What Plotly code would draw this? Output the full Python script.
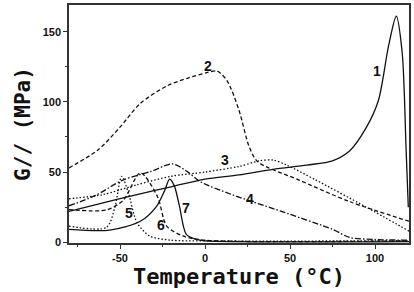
import plotly.graph_objects as go

# Curve data (Temperature in °C, G'' in MPa)
t1 = [-80, -60, -40, -20, 0, 20, 40, 60, 75, 85, 95, 102, 108, 112.5, 116, 118.3, 119.6]
g1 = [22, 28, 34, 39.5, 45, 48, 52, 55, 58, 65, 82, 101, 140, 161, 135, 66, 25]

t2 = [-80, -63, -50, -38, -22, -10, 1, 7, 13, 20, 26, 31, 55, 85, 120]
g2 = [53, 65.7, 82, 99, 111.6, 117, 120.8, 122, 115, 94, 68, 57.4, 44.5, 29, 15]

t3 = [-80, -60, -40, -20, 0, 20, 32, 40, 48, 65, 94, 120]
g3 = [31, 34, 41, 47, 50, 54, 58, 58.6, 55, 44.5, 25.6, 8]

t4 = [-80, -65, -48, -32, -19, -10, -3, 16, 45, 75, 85, 100, 120]
g4 = [26, 33, 44.5, 50.4, 55.8, 50, 43.3, 33.9, 22, 9.2, 3.5, 2, 1.5]

t5 = [-80, -58, -53, -49, -45, -40, -32.5, -20, 0, 120]
g5 = [11.5, 10.6, 25, 47, 35, 14, 4.5, 1.5, 1, 1]

t6 = [-80, -58, -48, -38, -28, -22.5, -13, 0, 120]
g6 = [23.3, 23, 30, 49.4, 32.7, 11.5, 4.5, 1.5, 1]

t7 = [-80, -56, -38, -28.5, -23.7, -20.8, -18, -15, -11, -5, 0, 120]
g7 = [9.2, 8.7, 15, 25.6, 37, 45, 40, 25.6, 5.6, 2, 1, 0.5]

curve_labels = ["1", "2", "3", "4", "5", "6", "7"]
label_t = [101, 1.5, 12, 26.4, -45, -25.6, -11]
label_g = [122, 125.7, 58.6, 30.8, 21, 12, 24.5]

x_ticks = [-50, 0, 50, 100]
y_ticks = [0, 50, 100, 150]

DASH = "4px,2.5px"
DOT = "1.5px,2px"
DASHDOT = "6px,2px,1.5px,2px"

series = [
    (t1, g1, "solid"),
    (t2, g2, DASH),
    (t3, g3, DOT),
    (t4, g4, DASHDOT),
    (t5, g5, DOT),
    (t6, g6, DASH),
    (t7, g7, "solid"),
]

fig = go.Figure()
for t, g, dash in series:
    fig.add_trace(go.Scatter(
        x=t, y=g, mode="lines",
        line=dict(color="#111", width=1.3, dash=dash, shape="spline", smoothing=0.8),
        showlegend=False, hoverinfo="skip"))

for lab, xt, yg in zip(curve_labels, label_t, label_g):
    fig.add_annotation(x=xt, y=yg, text="<b>" + lab + "</b>", showarrow=False,
                       font=dict(family="Liberation Sans", size=14, color="#111"),
                       xanchor="center", yanchor="middle")

axis_common = dict(
    showline=True, linecolor="#333", linewidth=1.5, mirror=True,
    ticks="outside", ticklen=4, tickcolor="#333", tickwidth=1,
    showgrid=False, zeroline=False,
    tickfont=dict(family="Liberation Sans", size=11, color="#111"),
)

fig.update_layout(
    width=414, height=292,
    margin=dict(l=69, r=3, t=4, b=49),
    paper_bgcolor="white", plot_bgcolor="white",
    xaxis=dict(range=[-80, 120], tickvals=x_ticks,
               ticktext=["<b>%d</b>" % v for v in x_ticks],
               minor=dict(tickvals=[-75, -25, 25, 75], ticklen=2, ticks="outside", tickcolor="#333"),
               title=dict(text="<b>Temperature (°C)</b>", standoff=5,
                          font=dict(family="DejaVu Sans Mono", size=22, color="#111")),
               **axis_common),
    yaxis=dict(range=[-0.5, 169], tickvals=y_ticks,
               ticktext=["<b>%d</b>" % v for v in y_ticks],
               minor=dict(tickvals=[25, 75, 125], ticklen=2, ticks="outside", tickcolor="#333"),
               title=dict(text="<b>G// (MPa)</b>", standoff=6,
                          font=dict(family="DejaVu Sans Mono", size=21, color="#111")),
               **axis_common),
)

fig.write_html("out.html")
